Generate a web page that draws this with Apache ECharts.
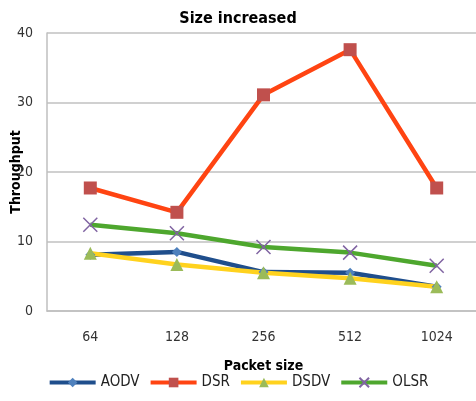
<!DOCTYPE html>
<html><head><meta charset="utf-8">
<script src="https://cdn.jsdelivr.net/npm/echarts@6/dist/echarts.min.js"></script>
<style>html,body{margin:0;padding:0;background:#fff}#c{width:476px;height:401px}</style>
</head><body><div id="c"></div>
<script>
const categories = ['64', '128', '256', '512', '1024'];
const aodv = [8.1, 8.5, 5.6, 5.5, 3.5];
const dsr = [17.7, 14.2, 31.1, 37.6, 17.7];
const dsdv = [8.3, 6.7, 5.5, 4.7, 3.5];
const olsr = [12.4, 11.2, 9.2, 8.4, 6.5];
const yTicks = [0, 10, 20, 30, 40];

const F = "'DejaVu Sans Condensed', 'Liberation Sans', Arial, sans-serif";
const xPath = 'path://M0,0L10,10M10,0L0,10';
const chart = echarts.init(document.getElementById('c'));
chart.setOption({
  animation: false,
  textStyle: { fontFamily: F },
  title: { text: 'Size increased', left: 'center', top: 6, textStyle: { fontFamily: F, fontSize: 16, fontWeight: 'bold', color: '#000' } },
  grid: { left: 47, top: 33, right: -4, bottom: 90, containLabel: false, outerBoundsMode: 'none' },
  legend: {
    bottom: 6, left: 'center', itemWidth: 46, itemHeight: 12, itemGap: 9,
    textStyle: { fontFamily: F, fontSize: 15, color: '#222' },
    lineStyle: { width: 4 },
    data: ['AODV', 'DSR', 'DSDV', 'OLSR']
  },
  xAxis: {
    type: 'category', data: categories, boundaryGap: true,
    name: 'Packet size', nameLocation: 'middle', nameGap: 48, nameMoveOverlap: false,
    nameTextStyle: { fontFamily: F, fontSize: 14, fontWeight: 'bold', color: '#000' },
    axisLine: { lineStyle: { color: '#bfbfbf', width: 1.5 } },
    axisTick: { show: false },
    axisLabel: { fontFamily: F, fontSize: 14, color: '#333', margin: 19 }
  },
  yAxis: {
    type: 'value', min: yTicks[0], max: yTicks[yTicks.length - 1], interval: 10,
    name: 'Throughput', nameLocation: 'middle', nameGap: 24, nameMoveOverlap: false,
    nameTextStyle: { fontFamily: F, fontSize: 14, fontWeight: 'bold', color: '#000' },
    axisLine: { show: true, lineStyle: { color: '#bfbfbf', width: 1.5 } },
    axisTick: { show: false },
    splitLine: { lineStyle: { color: '#c0c0c0', width: 1.5 } },
    axisLabel: { fontFamily: F, fontSize: 14, color: '#333', margin: 14 }
  },
  series: [
    { name: 'AODV', type: 'line', data: aodv, symbol: 'diamond', symbolSize: 10,
      lineStyle: { color: '#1f4e8c', width: 4.5 }, itemStyle: { color: '#4f81bd' } },
    { name: 'DSR', type: 'line', data: dsr, symbol: 'rect', symbolSize: 13,
      lineStyle: { color: '#ff4412', width: 4.5 }, itemStyle: { color: '#c0504d' } },
    { name: 'DSDV', type: 'line', data: dsdv, symbol: 'triangle', symbolSize: 13,
      lineStyle: { color: '#ffd21e', width: 4.5 }, itemStyle: { color: '#9bbb59' } },
    { name: 'OLSR', type: 'line', data: olsr, symbol: xPath, symbolSize: 14,
      lineStyle: { color: '#4ea72e', width: 4.5 },
      itemStyle: { color: '#8064a2', borderColor: '#8064a2', borderWidth: 1.5 } }
  ]
});
</script></body></html>
